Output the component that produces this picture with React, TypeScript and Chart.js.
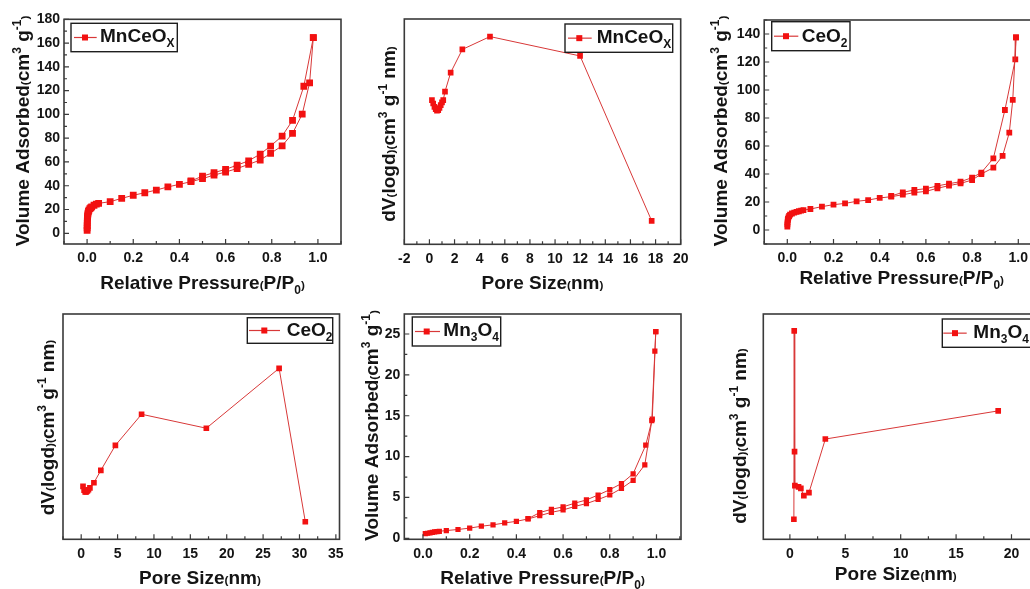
import { useEffect, useRef } from 'react';
import { Chart, registerables } from 'chart.js';

Chart.register(...registerables);

// ---------- data ----------
// MnCeOx N2 isotherm (relative pressure, volume adsorbed)
const mnceoxAdsP = [0.0002, 0.0004, 0.0006, 0.0008, 0.001, 0.0015, 0.002, 0.003, 0.004, 0.006, 0.008, 0.012, 0.016, 0.02, 0.03, 0.04, 0.05, 0.1, 0.15, 0.2, 0.25, 0.3, 0.35, 0.4, 0.45, 0.5, 0.55, 0.6, 0.65, 0.7, 0.75, 0.795, 0.845, 0.89, 0.932, 0.964, 0.98];
const mnceoxAdsV = [2.5, 4.5, 6.5, 8.5, 10.5, 12.5, 14.0, 15.5, 17.0, 18.5, 19.5, 20.7, 21.5, 22.3, 23.6, 24.5, 25.2, 26.6, 29.4, 32.0, 34.1, 36.4, 39.0, 41.2, 43.4, 46.0, 49.0, 51.5, 54.5, 58.0, 61.6, 67.2, 73.6, 84.0, 100.2, 126.6, 164.5];
const mnceoxDesP = [0.98, 0.939, 0.89, 0.845, 0.795, 0.75, 0.7, 0.65, 0.6, 0.55, 0.5, 0.45];
const mnceoxDesV = [164.5, 123.7, 95.0, 81.8, 73.4, 66.6, 61.0, 57.3, 53.8, 51.0, 48.1, 44.0];

// MnCeOx pore size distribution (nm, relative dV/dlogd)
const mnceoxPore = [0.2, 0.3, 0.4, 0.5, 0.6, 0.7, 0.8, 0.9, 1.0, 1.1, 1.24, 1.69, 2.62, 4.82, 11.99, 17.69];
const mnceoxDv = [64, 62.5, 61, 60, 59.3, 59.5, 60.5, 61.8, 63, 64, 67.8, 76.2, 86.5, 92.2, 83.6, 10.4];

// CeO2 N2 isotherm
const ceo2AdsP = [0.0002, 0.0005, 0.001, 0.002, 0.003, 0.005, 0.008, 0.012, 0.02, 0.03, 0.04, 0.05, 0.06, 0.07, 0.1, 0.15, 0.2, 0.25, 0.3, 0.35, 0.4, 0.45, 0.5, 0.55, 0.6, 0.65, 0.7, 0.75, 0.8, 0.84, 0.892, 0.932, 0.961, 0.976, 0.99];
const ceo2AdsV = [2.5, 4, 5.5, 7, 8, 9, 10, 11, 11.8, 12.4, 12.9, 13.4, 13.8, 14.2, 15.0, 16.7, 18.1, 19.0, 20.5, 21.4, 22.9, 23.8, 25.2, 26.7, 27.6, 29.8, 31.7, 33.3, 35.7, 40.0, 44.5, 52.9, 69.5, 92.9, 137.6];
const ceo2DesP = [0.99, 0.987, 0.942, 0.892, 0.84, 0.8, 0.75, 0.7, 0.65, 0.6, 0.55, 0.5, 0.45];
const ceo2DesV = [137.6, 121.9, 85.7, 51.2, 41.0, 37.4, 34.5, 33.1, 31.5, 29.5, 28.6, 26.9, 24.3];

// CeO2 pore size distribution
const ceo2Pore = [0.25, 0.4, 0.55, 0.7, 0.85, 1.0, 1.2, 1.75, 2.7, 4.7, 8.3, 17.2, 27.2, 30.8];
const ceo2Dv = [23.5, 21.8, 21.0, 21.0, 21.5, 22.0, 22.8, 25.1, 30.6, 41.7, 55.5, 49.3, 75.9, 7.8];

// Mn3O4 N2 isotherm
const mn3o4AdsP = [0.01, 0.02, 0.03, 0.04, 0.05, 0.06, 0.07, 0.1, 0.15, 0.2, 0.25, 0.3, 0.35, 0.4, 0.45, 0.5, 0.55, 0.6, 0.65, 0.7, 0.75, 0.8, 0.85, 0.9, 0.95, 0.98, 0.993, 0.997];
const mn3o4AdsV = [0.57, 0.62, 0.68, 0.72, 0.78, 0.82, 0.86, 0.95, 1.08, 1.25, 1.48, 1.65, 1.88, 2.08, 2.37, 2.77, 3.18, 3.47, 3.9, 4.25, 4.75, 5.3, 6.1, 7.1, 9.0, 14.4, 22.9, 25.3];
const mn3o4DesP = [0.997, 0.982, 0.954, 0.9, 0.85, 0.8, 0.75, 0.7, 0.65, 0.6, 0.55, 0.5, 0.45];
const mn3o4DesV = [25.3, 14.6, 11.4, 7.9, 6.7, 5.95, 5.3, 4.7, 4.3, 3.85, 3.55, 3.15, 2.4];

// Mn3O4 pore size distribution
const mn3o4Pore = [0.36, 0.39, 0.42, 0.45, 0.78, 0.99, 1.26, 1.72, 3.2, 18.8];
const mn3o4Dv = [8.9, 92.5, 38.9, 23.8, 23.3, 22.6, 19.4, 20.7, 44.5, 57.0];

// tick labels
const pressureTicks = [0, 0.2, 0.4, 0.6, 0.8, 1.0];
const mnceoxVolTicks = [0, 20, 40, 60, 80, 100, 120, 140, 160, 180];
const ceo2VolTicks = [0, 20, 40, 60, 80, 100, 120, 140];
const mn3o4VolTicks = [0, 5, 10, 15, 20, 25];
const mnceoxPoreTicks = [-2, 0, 2, 4, 6, 8, 10, 12, 14, 16, 18, 20];
const ceo2PoreTicks = [0, 5, 10, 15, 20, 25, 30, 35];
const mn3o4PoreTicks = [0, 5, 10, 15, 20];

// ---------- styling ----------
const FONT = '"Liberation Sans", Arial, Helvetica, sans-serif';
const TEXT = '#141414';
const FRAME = '#3a3a3a';
const LINE = '#d83838';
const MARK = '#f21111';

type Kind = 'n' | 'sub' | 'sup' | 'p';
type Seg = [string, Kind];

const ISO_X: Seg[] = [['Relative Pressure', 'n'], ['(', 'p'], ['P/P', 'n'], ['0', 'sub'], [')', 'p']];
const ISO_Y: Seg[] = [['Volume Adsorbed', 'n'], ['(', 'p'], ['cm', 'n'], ['3', 'sup'], [' g', 'n'], ['-1', 'sup'], [')', 'p']];
const PSD_X: Seg[] = [['Pore Size', 'n'], ['(', 'p'], ['nm', 'n'], [')', 'p']];
const PSD_Y: Seg[] = [['dV', 'n'], ['(', 'p'], ['logd', 'n'], [')(', 'p'], ['cm', 'n'], ['3', 'sup'], [' g', 'n'], ['-1', 'sup'], [' nm', 'n'], [')', 'p']];
const LBL_MNCEOX: Seg[] = [['MnCeO', 'n'], ['X', 'sub']];
const LBL_CEO2: Seg[] = [['CeO', 'n'], ['2', 'sub']];
const LBL_MN3O4: Seg[] = [['Mn', 'n'], ['3', 'sub'], ['O', 'n'], ['4', 'sub']];

interface Series { x: number[]; y: number[] }
interface Panel {
  id: string;
  box: { x: number; y: number; w: number; h: number };
  plot: { l: number; t: number; r: number; b: number };
  xr: [number, number];
  yr: [number, number];
  xTicks: number[];
  xStep: number;
  xDigits: number;
  yTicks: number[] | null;
  yStep: number;
  series: Series[];
  radius: number;
  xTitle: Seg[];
  xTitleAt: [number, number];
  yTitle: Seg[];
  yTitleAt: [number, number];
  legend: { label: Seg[]; box: [number, number, number, number]; line: [number, number]; marker: number; textX: number; base: number };
}

const PANELS: Panel[] = [
  {
    id: 'mnceox-iso',
    box: { x: 0, y: 0, w: 350, h: 295 },
    plot: { l: 64, t: 19.3, r: 341, b: 244 },
    xr: [-0.1, 1.1], yr: [-9, 180],
    xTicks: pressureTicks, xStep: 0.2, xDigits: 1,
    yTicks: mnceoxVolTicks, yStep: 20,
    series: [{ x: mnceoxAdsP, y: mnceoxAdsV }, { x: mnceoxDesP, y: mnceoxDesV }],
    radius: 4.8,
    xTitle: ISO_X, xTitleAt: [202.5, 281.7],
    yTitle: ISO_Y, yTitleAt: [21.7, 131],
    legend: { label: LBL_MNCEOX, box: [71, 23.3, 106.3, 28.4], line: [74, 96.7], marker: 85, textX: 100, base: 42 },
  },
  {
    id: 'mnceox-psd',
    box: { x: 350, y: 0, w: 350, h: 295 },
    plot: { l: 404.3, t: 19, r: 680.7, b: 244.3 },
    xr: [-2, 20], yr: [0, 100],
    xTicks: mnceoxPoreTicks, xStep: 2, xDigits: 0,
    yTicks: null, yStep: 0,
    series: [{ x: mnceoxPore, y: mnceoxDv }],
    radius: 4,
    xTitle: PSD_X, xTitleAt: [542.5, 281.7],
    yTitle: PSD_Y, yTitleAt: [388, 134],
    legend: { label: LBL_MNCEOX, box: [565, 24, 107.7, 28.3], line: [568, 591.7], marker: 579.3, textX: 596.7, base: 43.3 },
  },
  {
    id: 'ceo2-iso',
    box: { x: 700, y: 0, w: 370, h: 295 },
    plot: { l: 764.2, t: 20, r: 1041.4, b: 244 },
    xr: [-0.1, 1.1], yr: [-10, 150],
    xTicks: pressureTicks, xStep: 0.2, xDigits: 1,
    yTicks: ceo2VolTicks, yStep: 20,
    series: [{ x: ceo2AdsP, y: ceo2AdsV }, { x: ceo2DesP, y: ceo2DesV }],
    radius: 4.1,
    xTitle: ISO_X, xTitleAt: [901.7, 276.7],
    yTitle: ISO_Y, yTitleAt: [720, 131],
    legend: { label: LBL_CEO2, box: [771.7, 21.7, 78.3, 29], line: [774, 798.3], marker: 786, textX: 801.7, base: 41.7 },
  },
  {
    id: 'ceo2-psd',
    box: { x: 0, y: 295, w: 350, h: 294 },
    plot: { l: 63, t: 314, r: 339.5, b: 539.3 },
    xr: [-2.5, 35.5], yr: [0, 100],
    xTicks: ceo2PoreTicks, xStep: 5, xDigits: 0,
    yTicks: null, yStep: 0,
    series: [{ x: ceo2Pore, y: ceo2Dv }],
    radius: 4,
    xTitle: PSD_X, xTitleAt: [200, 576.7],
    yTitle: PSD_Y, yTitleAt: [46.7, 427.5],
    legend: { label: LBL_CEO2, box: [247.3, 317.7, 85.4, 25.6], line: [249, 280], marker: 264.3, textX: 286.7, base: 336 },
  },
  {
    id: 'mn3o4-iso',
    box: { x: 350, y: 295, w: 350, h: 294 },
    plot: { l: 404.3, t: 314, r: 681, b: 539.3 },
    xr: [-0.08, 1.105], yr: [-0.12, 27.45],
    xTicks: pressureTicks, xStep: 0.2, xDigits: 1,
    yTicks: mn3o4VolTicks, yStep: 5,
    series: [{ x: mn3o4AdsP, y: mn3o4AdsV }, { x: mn3o4DesP, y: mn3o4DesV }],
    radius: 3.7,
    xTitle: ISO_X, xTitleAt: [542.5, 577],
    yTitle: ISO_Y, yTitleAt: [370.8, 425.5],
    legend: { label: LBL_MN3O4, box: [412.3, 317, 88.4, 29], line: [415, 440], marker: 426.7, textX: 443.3, base: 336 },
  },
  {
    id: 'mn3o4-psd',
    box: { x: 700, y: 295, w: 370, h: 294 },
    plot: { l: 763.3, t: 314, r: 1040.3, b: 539.3 },
    xr: [-2.4, 22.6], yr: [0, 100],
    xTicks: mn3o4PoreTicks, xStep: 5, xDigits: 0,
    yTicks: null, yStep: 0,
    series: [{ x: mn3o4Pore, y: mn3o4Dv }],
    radius: 4,
    xTitle: PSD_X, xTitleAt: [895.8, 573],
    yTitle: PSD_Y, yTitleAt: [739, 436],
    legend: { label: LBL_MN3O4, box: [942.3, 319, 100, 28.3], line: [943.3, 966.7], marker: 955, textX: 973.3, base: 338 },
  },
];

// ---------- rich text helpers ----------
function segSize(kind: Kind, base: number) {
  if (kind === 'n') return base;
  if (kind === 'p') return base * 0.62;
  return base * 0.63;
}
function segShift(kind: Kind, base: number) {
  if (kind === 'sub') return base * 0.27;
  if (kind === 'sup') return -base * 0.42;
  return 0;
}
function richWidth(ctx: CanvasRenderingContext2D, segs: Seg[], base: number) {
  let w = 0;
  for (const [t, k] of segs) {
    ctx.font = `bold ${segSize(k, base)}px ${FONT}`;
    w += ctx.measureText(t).width;
  }
  return w;
}
function drawRich(ctx: CanvasRenderingContext2D, segs: Seg[], x: number, y: number, base: number) {
  let cx = x;
  ctx.textAlign = 'left';
  ctx.textBaseline = 'alphabetic';
  for (const [t, k] of segs) {
    ctx.font = `bold ${segSize(k, base)}px ${FONT}`;
    ctx.fillText(t, cx, y + segShift(k, base));
    cx += ctx.measureText(t).width;
  }
}

function minorTicks(major: number[], step: number, lo: number, hi: number) {
  const out: number[] = [];
  if (!major.length) return out;
  const half = step / 2;
  for (let v = major[0] - half; v <= hi + 1e-9; v += half) {
    if (v >= lo - 1e-9) out.push(v);
  }
  for (let v = major[0] - half; v >= lo - 1e-9; v -= half) out.push(v);
  return out;
}

function makeOverlay(p: Panel) {
  const ox = p.box.x;
  const oy = p.box.y;
  return {
    id: 'frameAndText-' + p.id,
    afterDraw(chart: Chart) {
      const ctx = chart.ctx;
      const { left, right, top, bottom } = chart.chartArea;
      const xs = chart.scales.x;
      const ys = chart.scales.y;
      ctx.save();

      // inward tick marks on the bottom and left axes
      ctx.strokeStyle = FRAME;
      ctx.lineWidth = 1.2;
      ctx.beginPath();
      for (const v of minorTicks(p.xTicks, p.xStep, p.xr[0], p.xr[1])) {
        const px = xs.getPixelForValue(v);
        const major = p.xTicks.some((m) => Math.abs(m - v) < 1e-9);
        ctx.moveTo(px, bottom);
        ctx.lineTo(px, bottom - (major ? 5 : 3));
      }
      if (p.yTicks) {
        for (const v of minorTicks(p.yTicks, p.yStep, p.yr[0], p.yr[1])) {
          const py = ys.getPixelForValue(v);
          const major = p.yTicks.some((m) => Math.abs(m - v) < 1e-9);
          ctx.moveTo(left, py);
          ctx.lineTo(left + (major ? 5 : 3), py);
        }
      }
      ctx.stroke();

      // axis frame
      ctx.lineWidth = 1.6;
      ctx.strokeRect(left, top, right - left, bottom - top);

      // axis titles
      ctx.fillStyle = TEXT;
      const tb = 19;
      const xw = richWidth(ctx, p.xTitle, tb);
      drawRich(ctx, p.xTitle, p.xTitleAt[0] - ox - xw / 2, p.xTitleAt[1] - oy + tb * 0.36, tb);
      const yw = richWidth(ctx, p.yTitle, tb);
      ctx.save();
      ctx.translate(p.yTitleAt[0] - ox, p.yTitleAt[1] - oy);
      ctx.rotate(-Math.PI / 2);
      drawRich(ctx, p.yTitle, -yw / 2, tb * 0.36, tb);
      ctx.restore();

      // legend
      const lg = p.legend;
      const [bx, by, bw, bh] = lg.box;
      ctx.fillStyle = '#ffffff';
      ctx.fillRect(bx - ox, by - oy, bw, bh);
      ctx.strokeStyle = '#1e1e1e';
      ctx.lineWidth = 1.4;
      ctx.strokeRect(bx - ox, by - oy, bw, bh);
      const cy = by - oy + bh / 2;
      ctx.strokeStyle = LINE;
      ctx.lineWidth = 1.2;
      ctx.beginPath();
      ctx.moveTo(lg.line[0] - ox, cy);
      ctx.lineTo(lg.line[1] - ox, cy);
      ctx.stroke();
      ctx.fillStyle = MARK;
      ctx.fillRect(lg.marker - ox - 3, cy - 3, 6, 6);
      ctx.fillStyle = TEXT;
      drawRich(ctx, lg.label, lg.textX - ox, lg.base - oy, 19);

      ctx.restore();
    },
  };
}

function buildConfig(p: Panel) {
  const axisH = p.box.y + p.box.h - p.plot.b;
  const axisW = p.plot.l - p.box.x;
  const tickFont = { family: FONT, size: 14, weight: 'bold' as const };
  return {
    type: 'scatter' as const,
    data: {
      datasets: p.series.map((s) => ({
        data: s.x.map((x, i) => ({ x, y: s.y[i] })),
        showLine: true,
        borderColor: LINE,
        borderWidth: 1,
        backgroundColor: MARK,
        pointBackgroundColor: MARK,
        pointBorderColor: MARK,
        pointBorderWidth: 0,
        pointStyle: 'rect' as const,
        pointRadius: p.radius,
        tension: 0,
      })),
    },
    options: {
      animation: false as const,
      responsive: false,
      events: [],
      layout: {
        autoPadding: false,
        padding: { left: 0, bottom: 0, top: p.plot.t - p.box.y, right: p.box.x + p.box.w - p.plot.r },
      },
      plugins: { legend: { display: false }, tooltip: { enabled: false } },
      scales: {
        x: {
          type: 'linear' as const,
          position: 'bottom' as const,
          min: p.xr[0],
          max: p.xr[1],
          grid: { display: false, drawTicks: false },
          border: { display: false },
          ticks: {
            font: tickFont,
            color: TEXT,
            padding: 6,
            autoSkip: false,
            maxRotation: 0,
            callback: (v: number | string) => Number(v).toFixed(p.xDigits),
          },
          afterBuildTicks: (s: any) => {
            s.ticks = p.xTicks.map((value) => ({ value }));
          },
          afterFit: (s: any) => {
            s.height = axisH;
          },
        },
        y: {
          type: 'linear' as const,
          position: 'left' as const,
          min: p.yr[0],
          max: p.yr[1],
          grid: { display: false, drawTicks: false },
          border: { display: false },
          ticks: {
            display: !!p.yTicks,
            font: tickFont,
            color: TEXT,
            padding: 4,
            autoSkip: false,
            callback: (v: number | string) => String(Math.round(Number(v))),
          },
          afterBuildTicks: (s: any) => {
            s.ticks = (p.yTicks || []).map((value) => ({ value }));
          },
          afterFit: (s: any) => {
            s.width = axisW;
          },
        },
      },
    },
    plugins: [makeOverlay(p)],
  };
}

function PanelChart({ p }: { p: Panel }) {
  const ref = useRef<HTMLCanvasElement>(null);
  useEffect(() => {
    if (!ref.current) return;
    const chart = new Chart(ref.current, buildConfig(p) as any);
    return () => chart.destroy();
  }, [p]);
  return (
    <canvas
      ref={ref}
      width={p.box.w}
      height={p.box.h}
      style={{ position: 'absolute', left: p.box.x, top: p.box.y, width: p.box.w, height: p.box.h }}
    />
  );
}

export default function App() {
  return (
    <div
      style={{
        position: 'fixed',
        left: 0,
        top: 0,
        width: 1030,
        height: 589,
        overflow: 'hidden',
        background: '#ffffff',
      }}
    >
      {PANELS.map((p) => (
        <PanelChart key={p.id} p={p} />
      ))}
    </div>
  );
}
